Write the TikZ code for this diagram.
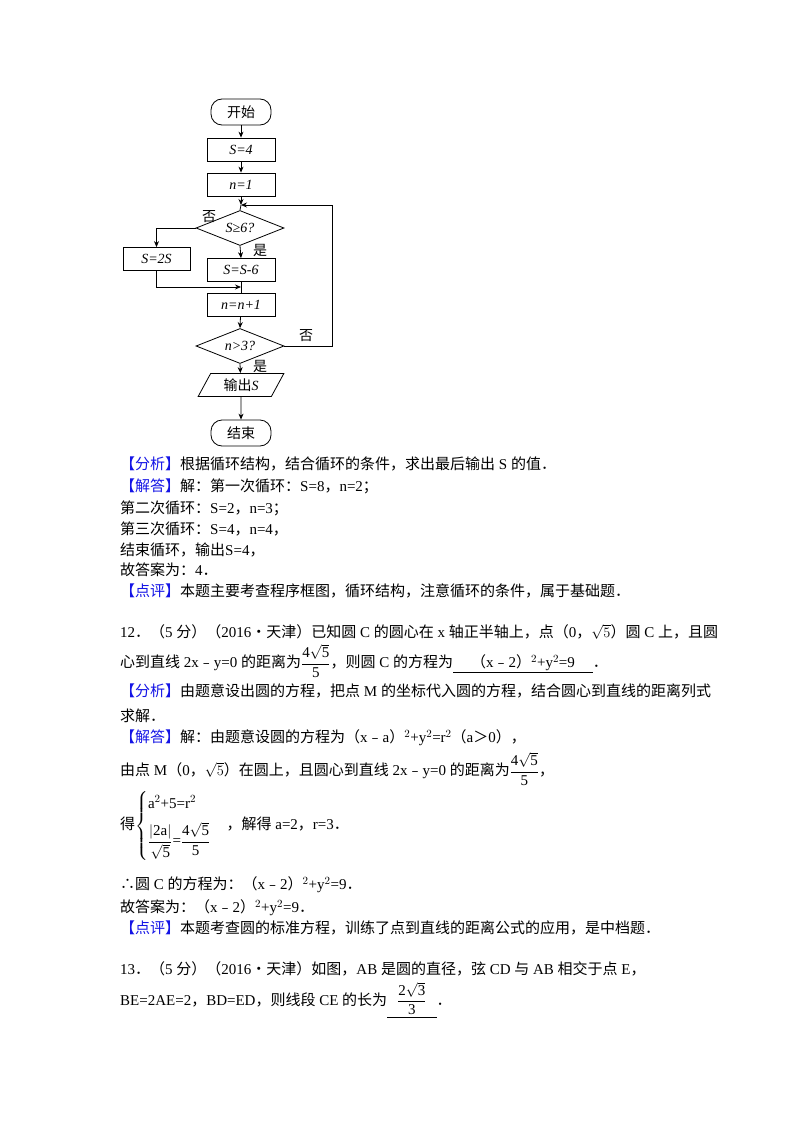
\documentclass[tikz,border=0pt]{standalone}
\usepackage{fontspec}
\usepackage{amsmath}
\setmainfont{Noto Sans CJK SC}
\newfontfamily\tmf{Liberation Serif}
\newcommand\tn[1]{{\tmf #1}}
\newcommand\ti[1]{{\tmf\itshape #1}}
\newcommand\mt[1]{\text{\tmf #1}}
\usetikzlibrary{shapes.geometric,arrows.meta}
\definecolor{hd}{RGB}{20,20,230}
\newcommand\hb[1]{{\color{hd}#1}}
\begin{document}
\begin{tikzpicture}[x=1pt,y=-1pt,
  fc/.style={draw,line width=0.8pt,font=\fontsize{14}{15}\selectfont,inner sep=1pt},
  bx/.style={fc,minimum width=68pt,minimum height=23pt},
  term/.style={fc,rounded corners=11pt,minimum width=60pt,minimum height=26pt},
  dia/.style={fc,diamond,aspect=2.5,minimum width=88pt,minimum height=35pt},
  io/.style={fc,trapezium,trapezium left angle=63,trapezium right angle=117,trapezium stretches=true,minimum width=86pt,minimum height=23pt},
  ar/.style={line width=0.8pt,-{Stealth[length=6pt,width=5pt]}},
  ln/.style={line width=0.8pt},
  lab/.style={font=\fontsize{14}{15}\selectfont,inner sep=0pt},
  tx/.style={anchor=west,inner sep=0pt,font=\fontsize{15}{18}\selectfont}]
\useasboundingbox[fill=white] (0,0) rectangle (800,1132);
% flowchart
\node[term] (start) at (241,112) {开始};
\node[bx] (s4) at (241,149.5) {\ti{S=4}};
\node[bx] (n1) at (241,184.5) {\ti{n=1}};
\coordinate (m1) at (241,205);
\node[dia] (d1) at (240,228) {\ti{S≥6?}};
\node[bx,minimum width=67pt] (s2s) at (156.5,259) {\ti{S=2S}};
\node[bx] (ss6) at (241,270) {\ti{S=S-6}};
\coordinate (m2) at (241,287);
\node[bx] (nn) at (241,304.5) {\ti{n=n+1}};
\node[dia] (d2) at (240,346) {\ti{n>3?}};
\node[io] (out) at (241,385) {输出\ti{S}};
\node[term] (end) at (241,433) {结束};
\coordinate (r1) at (332,346);
\draw[ar] (start) -- (s4);
\draw[ar] (s4) -- (n1);
\draw[ar] (n1) -- (m1);
\draw[ln] (m1) -- (d1.north);
\draw[ar] (d1.west) -| (s2s.north);
\draw[ar] (d1.south) -- (ss6.north);
\draw[ln] (ss6.south) -- (nn.north);
\draw[ar] (s2s.south) |- (m2);
\draw[ar] (nn) -- (d2.north);
\draw[ar] (d2.south) -- (out);
\draw[ar] (out) -- (end);
\draw[ar] (d2.east) -- (r1) |- (m1);
\node[lab] (l1) at (209,217) {否};
\node[lab] (l2) at (260,250) {是};
\node[lab] (l3) at (306,336) {否};
\node[lab] (l4) at (260,366) {是};
% text
\node[tx] (t1) at (120,464) {\hb{【分析】}根据循环结构，结合循环的条件，求出最后输出\tn{ S }的值．};
\node[tx] (t2) at (120,486) {\hb{【解答】}解：第一次循环：\tn{S=8}，\tn{n=2}；};
\node[tx] (t3) at (120,508) {第二次循环：\tn{S=2}，\tn{n=3}；};
\node[tx] (t4) at (120,529) {第三次循环：\tn{S=4}，\tn{n=4}，};
\node[tx] (t5) at (120,550) {结束循环，输出\tn{S=4}，};
\node[tx] (t6) at (120,570) {故答案为：\tn{4}．};
\node[tx] (t7) at (120,591) {\hb{【点评】}本题主要考查程序框图，循环结构，注意循环的条件，属于基础题．};
\node[tx] (t8) at (120,632) {\tn{12}．（\tn{5 }分）（\tn{2016}•天津）已知圆\tn{ C }的圆心在\tn{ x }轴正半轴上，点（\tn{0}，$\sqrt{5}$）圆\tn{ C }上，且圆};
\node[tx] (t9) at (120,661) {心到直线\tn{ 2x}﹣\tn{y=0 }的距离为$\dfrac{\mt{4}\sqrt{\mt{5}}}{\mt{5}}$，则圆\tn{ C }的方程为\underline{\hspace{18pt}（\tn{x}﹣\tn{2}）\tn{$^2$+y$^2$=9}\hspace{18pt}}．};
\node[tx] (t10) at (120,691) {\hb{【分析】}由题意设出圆的方程，把点\tn{ M }的坐标代入圆的方程，结合圆心到直线的距离列式};
\node[tx] (t11) at (120,716) {求解．};
\node[tx] (t12) at (120,738) {\hb{【解答】}解：由题意设圆的方程为（\tn{x}﹣\tn{a}）\tn{$^2$+y$^2$=r$^2$}（\tn{a}＞\tn{0}），};
\node[tx] (t13) at (120,769) {由点\tn{ M}（\tn{0}，$\sqrt{5}$）在圆上，且圆心到直线\tn{ 2x}﹣\tn{y=0 }的距离为$\dfrac{\mt{4}\sqrt{\mt{5}}}{\mt{5}}$，};
\node[tx] (t14) at (120,826) {得$\begin{cases}\mt{a}^{2}\mt{+5=r}^{2}\\[8pt] \dfrac{|\mt{2a}|}{\sqrt{\mt{5}}}\mt{=}\dfrac{\mt{4}\sqrt{\mt{5}}}{\mt{5}}\end{cases}$，解得\tn{ a=2}，\tn{r=3}．};
\node[tx] (t15) at (120,885) {∴圆\tn{ C }的方程为：（\tn{x}﹣\tn{2}）\tn{$^2$+y$^2$=9}．};
\node[tx] (t16) at (120,908) {故答案为：（\tn{x}﹣\tn{2}）\tn{$^2$+y$^2$=9}．};
\node[tx] (t17) at (120,928) {\hb{【点评】}本题考查圆的标准方程，训练了点到直线的距离公式的应用，是中档题．};
\node[tx] (t18) at (120,969) {\tn{13}．（\tn{5 }分）（\tn{2016}•天津）如图，\tn{AB }是圆的直径，弦\tn{ CD }与\tn{ AB }相交于点\tn{ E}，};
\node[tx] (t19) at (120,1000) {\tn{BE=2AE=2}，\tn{BD=ED}，则线段\tn{ CE }的长为\underline{\hspace{10pt}$\dfrac{\mt{2}\sqrt{\mt{3}}}{\mt{3}}$\hspace{10pt}}．};
\end{tikzpicture}
\end{document}
